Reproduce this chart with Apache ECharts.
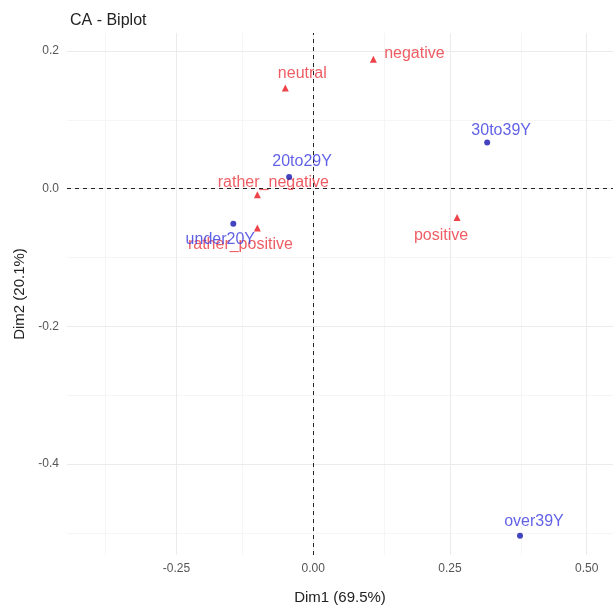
<!DOCTYPE html>
<html>
<head>
<meta charset="utf-8">
<script src="https://cdn.jsdelivr.net/npm/echarts@6/dist/echarts.min.js"></script>
<style>
  html, body { margin: 0; padding: 0; background: #fff; }
  #main { width: 613px; height: 610px; }
</style>
</head>
<body>
<div id="main"></div>
<script>
// row points (red triangles)
var rowNames = ['negative', 'neutral', 'positive', 'rather_negative', 'rather_positive'];
var rowDim1 = [0.110, -0.051, 0.263, -0.102, -0.102];
var rowDim2 = [0.188, 0.146, -0.042, -0.009, -0.057];

// column points (blue dots)
var colNames = ['under20Y', '20to29Y', '30to39Y', 'over39Y'];
var colDim1 = [-0.146, -0.044, 0.318, 0.378];
var colDim2 = [-0.051, 0.017, 0.067, -0.504];

// axis ticks / grid
var xTicks = [-0.25, 0, 0.25, 0.5];
var xMinor = [-0.375, -0.125, 0.125, 0.375];
var yTicks = [-0.4, -0.2, 0, 0.2];
var yMinor = [-0.5, -0.3, -0.1, 0.1];

// label offsets (px) so text sits like ggrepel placed it
var labelOffset = {
    'negative': [41, -6],
    'neutral': [17, -14],
    'positive': [-16, 18],
    'rather_negative': [16, -12],
    'rather_positive': [-17, 17],
    'under20Y': [-13, 16],
    '20to29Y': [13, -15],
    '30to39Y': [14, -12],
    'over39Y': [14, -14]
};

function pts(names, d1, d2) {
    return names.map(function (n, i) {
        return {
            name: n,
            value: [d1[i], d2[i]],
            label: { offset: labelOffset[n] }
        };
    });
}

function gridLines(vals, key, color) {
    return vals.map(function (v) {
        var o = { lineStyle: { color: color, width: 1, type: 'solid' } };
        o[key] = v;
        return o;
    });
}

var myChart = echarts.init(document.getElementById('main'));

var option = {
    backgroundColor: '#fff',
    animation: false,
    textStyle: { fontFamily: 'Liberation Sans, Arial, sans-serif' },
    title: {
        text: 'CA - Biplot',
        left: 65,
        top: 8,
        textStyle: { fontSize: 16, fontWeight: 'normal', color: '#222' }
    },
    grid: { left: 67, right: 0, top: 33, bottom: 54 },
    xAxis: {
        type: 'value',
        min: -0.450,
        max: 0.548,
        name: 'Dim1 (69.5%)',
        nameLocation: 'middle',
        nameGap: 35,
        nameTextStyle: { fontSize: 15, color: '#222' },
        axisLine: { show: false },
        splitLine: { show: false },
        axisTick: { show: true, length: 4, customValues: xTicks, lineStyle: { color: '#555' } },
        axisLabel: {
            customValues: xTicks,
            color: '#555',
            fontSize: 12,
            margin: 8,
            formatter: function (v) { return v.toFixed(2); }
        }
    },
    yAxis: {
        type: 'value',
        min: -0.532,
        max: 0.226,
        name: 'Dim2 (20.1%)',
        nameLocation: 'middle',
        nameGap: 38,
        nameTextStyle: { fontSize: 15, color: '#222' },
        axisLine: { show: false },
        splitLine: { show: false },
        axisTick: { show: true, length: 4, customValues: yTicks, lineStyle: { color: '#555' } },
        axisLabel: {
            customValues: yTicks,
            color: '#555',
            fontSize: 12,
            margin: 8,
            formatter: function (v) { return v.toFixed(1); }
        }
    },
    series: [
        {
            // background grid and zero lines
            type: 'scatter',
            data: [],
            silent: true,
            z: 1,
            markLine: {
                silent: true,
                z: 1,
                symbol: 'none',
                label: { show: false },
                animation: false,
                data: []
                    .concat(gridLines(xMinor, 'xAxis', '#f5f5f5'))
                    .concat(gridLines(yMinor, 'yAxis', '#f5f5f5'))
                    .concat(gridLines(xTicks, 'xAxis', '#ebebeb'))
                    .concat(gridLines(yTicks, 'yAxis', '#ebebeb'))
                    .concat([
                        { xAxis: 0, lineStyle: { color: '#222', width: 1, type: [4, 4] } },
                        { yAxis: 0, lineStyle: { color: '#222', width: 1, type: [4, 4] } }
                    ])
            }
        },
        {
            name: 'rows',
            type: 'scatter',
            symbol: 'triangle',
            symbolSize: 7,
            itemStyle: { color: '#e8141c' },
            label: {
                show: true,
                position: 'inside',
                formatter: '{b}',
                color: '#e8343c',
                fontSize: 16
            },
            data: pts(rowNames, rowDim1, rowDim2),
            z: 6
        },
        {
            name: 'cols',
            type: 'scatter',
            symbol: 'circle',
            symbolSize: 6,
            itemStyle: { color: '#1515b0' },
            label: {
                show: true,
                position: 'inside',
                formatter: '{b}',
                color: '#3a3ae0',
                fontSize: 16
            },
            data: pts(colNames, colDim1, colDim2),
            z: 7
        }
    ]
};

myChart.setOption(option);
</script>
</body>
</html>
